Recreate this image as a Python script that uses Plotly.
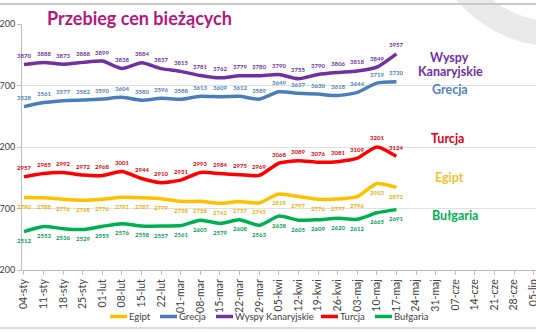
import plotly.graph_objects as go

categories = ["04-sty", "11-sty", "18-sty", "25-sty", "01-lut", "08-lut", "15-lut", "22-lut",
              "01-mar", "08-mar", "15-mar", "22-mar", "29-mar", "05-kwi", "12-kwi", "19-kwi",
              "26-kwi", "03-maj", "10-maj", "17-maj", "24-maj", "31-maj", "07-cze", "14-cze",
              "21-cze", "28-cze", "05-lip"]

egipt = [2790, 2788, 2776, 2768, 2776, 2791, 2787, 2779, 2758, 2758, 2742, 2757, 2745,
         2818, 2797, 2776, 2777, 2796, 2903, 2872]
grecja = [3528, 3561, 3577, 3582, 3590, 3604, 3580, 3596, 3588, 3613, 3609, 3612, 3589,
          3649, 3637, 3630, 3618, 3644, 3719, 3730]
wyspy = [3870, 3888, 3873, 3888, 3899, 3838, 3884, 3837, 3815, 3781, 3762, 3779, 3780,
         3790, 3755, 3790, 3806, 3818, 3849, 3957]
turcja = [2957, 2985, 2992, 2972, 2968, 3001, 2944, 2910, 2931, 2993, 2984, 2975, 2969,
          3068, 3089, 3076, 3081, 3109, 3201, 3124]
bulgaria = [2512, 2553, 2536, 2529, 2555, 2576, 2558, 2557, 2561, 2605, 2579, 2608, 2563,
            2638, 2605, 2609, 2620, 2612, 2665, 2691]

y_ticks = [2200, 2700, 3200, 3700, 4200]

series = [
    ("Egipt", egipt, "#FFC000", "#E8B000", -1),
    ("Grecja", grecja, "#4A7EBB", "#4A7EBB", 1),
    ("Wyspy Kanaryjskie", wyspy, "#7030A0", "#7030A0", 1),
    ("Turcja", turcja, "#FF0000", "#E00000", 1),
    ("Bułgaria", bulgaria, "#00B050", "#00A050", -1),
]

FONT = "Lato"
L, T, B, R = 22, 24, 62, 0
PW, PH = 536 - L - R, 332 - T - B
def px(x):
    return (x - L) / PW
def py(y):
    return (332 - B - y) / PH

fig = go.Figure()
annotations = []
shapes = [
    dict(type="circle", xref="paper", yref="paper", x0=px(556 - 117), x1=px(556 + 117),
         y0=py(-83 + 117), y1=py(-83 - 117), line=dict(color="#e9e9e9", width=25), layer="below"),
    dict(type="line", xref="paper", yref="paper", x0=px(0), x1=px(536), y0=py(4), y1=py(4),
         line=dict(color="#c8c8c8", width=2), layer="below"),
    dict(type="line", xref="paper", yref="paper", x0=px(0), x1=px(536), y0=py(328), y1=py(328),
         line=dict(color="#d0d0d0", width=1.5), layer="below"),
]

for name, vals, col, tcol, side in series:
    xs = categories[:len(vals)]
    fig.add_trace(go.Scatter(
        x=xs, y=vals, name=name, mode="lines",
        line=dict(color=col, width=3.5, shape="spline", smoothing=0.6),
    ))
    for xc, v in zip(xs, vals):
        annotations.append(dict(x=xc, y=v, xref="x", yref="y", text="<b>%d</b>" % v,
                                showarrow=False, yshift=9 * side,
                                font=dict(size=6, color=tcol, family=FONT)))

# manual legend (sample start pixel for each entry)
legend_x = [110, 160, 216, 321, 375]
for (name, vals, col, tcol, side), lx in zip(series, legend_x):
    shapes.append(dict(type="line", xref="paper", yref="paper", x0=px(lx), x1=px(lx + 17),
                       y0=py(316.5), y1=py(316.5), line=dict(color=col, width=3.5)))
    annotations.append(dict(x=px(lx + 17), xref="paper", y=py(316.5), yref="paper",
                            text=name, showarrow=False, xanchor="left", yanchor="middle",
                            font=dict(size=9.5, color="#404040", family=FONT)))

# side labels (pixel positions converted to paper)
side_labels = [("Wyspy", 449, 57, "#7030A0"), ("Kanaryjskie", 450, 71, "#7030A0"),
               ("Grecja", 450, 89, "#4F81BD"), ("Turcja", 447, 138, "#E0001A"),
               ("Egipt", 449, 177, "#F2C230"), ("Bułgaria", 455, 215, "#00B050")]
for txt, xp, yp, col in side_labels:
    annotations.append(dict(x=px(xp), xref="paper", y=py(yp), yref="paper",
                            text="<b>%s</b>" % txt, showarrow=False,
                            font=dict(size=12.5, color=col, family=FONT),
                            xanchor="center", yanchor="middle"))

annotations.append(dict(x=px(45), xref="paper", y=py(18), yref="paper",
                        text="<b>Przebieg cen bieżących</b>", showarrow=False,
                        xanchor="left", yanchor="middle",
                        font=dict(size=18, color="#B5177E", family=FONT)))

fig.update_layout(
    width=536, height=332, margin=dict(l=L, r=R, t=T, b=B),
    paper_bgcolor="white", plot_bgcolor="rgba(0,0,0,0)",
    font=dict(family=FONT, color="#404040"),
    annotations=annotations, shapes=shapes,
    showlegend=False,
    xaxis=dict(type="category", categoryorder="array", categoryarray=categories,
               range=[-0.1, 26.12], tickangle=-90, tickfont=dict(size=10.5, color="#404040"),
               showgrid=False, showline=True, linecolor="#bfbfbf", linewidth=1,
               ticks="outside", ticklen=4, tickcolor="#bfbfbf", zeroline=False,
               automargin=False),
    yaxis=dict(range=[2200, 4200], tickvals=y_ticks, ticktext=[str(v) for v in y_ticks],
               tickfont=dict(size=9, color="#404040"), showgrid=True, gridcolor="#e0e0e0",
               showline=True, linecolor="#bfbfbf", ticks="outside", ticklen=4,
               tickcolor="#bfbfbf", zeroline=False, automargin=False, ticklabelstandoff=0),
)

fig.write_html("out.html")
